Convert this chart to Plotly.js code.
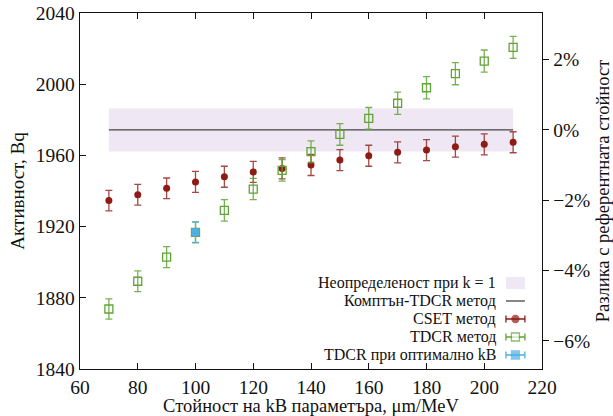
<!DOCTYPE html>
<html><head><meta charset="utf-8">
<script src="https://cdn.plot.ly/plotly-3.0.1.min.js"></script>
<style>body{margin:0;background:#fff}#c{width:613px;height:416px}</style>
</head><body><div id="c"></div>
<script>
const kB = [70, 80, 90, 100, 110, 120, 130, 140, 150, 160, 170, 180, 190, 200, 210];
const csetActivity = [1934.6, 1937.9, 1941.5, 1945.1, 1948.0, 1950.7, 1952.7, 1954.6, 1957.4, 1959.8, 1961.7, 1963.0, 1964.9, 1966.2, 1967.4];
const csetError = [5.8, 5.8, 5.8, 5.9, 5.9, 5.9, 5.9, 5.9, 5.9, 5.9, 5.9, 5.9, 5.9, 5.9, 5.9];
const tdcrActivity = [1873.7, 1889.3, 1902.9, 1916.8, 1929.1, 1941.1, 1951.6, 1962.1, 1971.8, 1980.8, 1989.3, 1998.0, 2005.9, 2013.0, 2020.7];
const tdcrError = [5.7, 5.8, 5.9, 5.9, 6.0, 6.0, 6.1, 6.1, 6.1, 6.1, 6.2, 6.2, 6.2, 6.2, 6.2];
const optKB = [100];
const optActivity = [1916.8];
const optError = [5.7];
const refActivity = 1974.3;
const refUncertainty = 12.1;
const refRange = [70, 210];
const yRange = [1840, 2040];
const legendLabels = ["Неопределеност при k = 1", "Комптън-TDCR метод", "CSET метод", "TDCR метод", "TDCR при оптимално kB"];

const font = "Liberation Serif, DejaVu Serif, serif";
const red = "#8e1b14", green = "#5fa434", blue = "#4db0e3";

const legY = [0.2416, 0.191, 0.1404, 0.0899, 0.0393];
const keyY = legY.slice(2);

const traces = [
  {x:[refRange[0], refRange[1], refRange[1], refRange[0]],
   y:[refActivity-refUncertainty, refActivity-refUncertainty, refActivity+refUncertainty, refActivity+refUncertainty],
   fill:'toself', fillcolor:'#efe7f4', line:{width:0}, mode:'lines', hoverinfo:'skip', showlegend:false},
  {x:refRange, y:[refActivity, refActivity], mode:'lines', line:{color:'#444', width:1.3}, showlegend:false},
  {x:kB, y:csetActivity, mode:'markers', marker:{color:red, size:7, symbol:'circle'},
   error_y:{type:'data', array:csetError, color:'rgba(142,27,20,0.8)', thickness:1.3, width:3.5}, showlegend:false},
  {x:kB, y:tdcrActivity, mode:'markers', marker:{color:green, size:8, symbol:'square-open', line:{color:green, width:1.3}},
   error_y:{type:'data', array:tdcrError, color:'rgba(95,164,52,0.85)', thickness:1.3, width:3.5}, showlegend:false},
  {x:optKB, y:optActivity, mode:'markers', marker:{color:blue, size:8, symbol:'square'},
   error_y:{type:'data', array:optError, color:'rgba(77,176,227,0.85)', thickness:1.3, width:3.5}, showlegend:false},
  {x:[kB[0]], y:[0], yaxis:'y2', mode:'markers', marker:{opacity:0}, hoverinfo:'skip', showlegend:false}
];
const keyColors = [red, green, blue];
keyColors.forEach((c,i)=>{
  traces.push({x:[0.9425], y:[keyY[i]], xaxis:'x3', yaxis:'y3', mode:'markers',
    marker:{color:'rgba(0,0,0,0)', size:1},
    error_x:{type:'constant', value:0.0205, color:c, thickness:1.3, width:3.5}, showlegend:false, hoverinfo:'skip'});
});
traces.push({x:[0.9425, 0.9425, 0.9425], y:keyY, xaxis:'x3', yaxis:'y3', mode:'markers',
   marker:{color:[red, '#fff', blue], size:[7,8,8], symbol:['circle','square','square'], line:{color:[red, green, blue], width:1.3}},
   showlegend:false, hoverinfo:'skip'});

const y2r = [(yRange[0]/refActivity-1)*100, (yRange[1]/refActivity-1)*100];
const annotations = legendLabels.map((t,i)=>({
  xref:'paper', yref:'paper', x:0.902, y:legY[i], xanchor:'right', yanchor:'middle',
  text:t, showarrow:false, borderpad:0,
  font:{family:font, size:16, color:'#111'}
}));

const layout = {
  width:613, height:416,
  margin:{l:80, r:71, t:13, b:47},
  paper_bgcolor:'#fff', plot_bgcolor:'#fff',
  font:{family:font, size:19.5, color:'#111'},
  showlegend:false,
  xaxis:{range:[60,220], dtick:20, tick0:60, ticks:'inside', ticklen:6, tickcolor:'#111', showline:true, linecolor:'#111', linewidth:1.3,
    mirror:'ticks', showgrid:false, zeroline:false,
    title:{text:'Стойност на kB параметъра, μm/MeV', font:{family:font, size:18.5}, standoff:4}},
  yaxis:{range:yRange, dtick:40, tick0:1840, ticks:'inside', ticklen:6, tickcolor:'#111', showline:true, linecolor:'#111', linewidth:1.3,
    showgrid:false, zeroline:false,
    title:{text:'Активност, Bq', font:{family:font, size:19}, standoff:6}},
  yaxis2:{range:y2r, overlaying:'y', side:'right', dtick:2, tick0:0, ticksuffix:'%', ticks:'outside', ticklen:6, tickcolor:'#111',
    showline:true, linecolor:'#111', linewidth:1.3, showgrid:false, zeroline:false,
    title:{text:'Разлика с референтната стойност', font:{family:font, size:18.5}, standoff:8}},
  xaxis3:{range:[0,1], overlaying:'x', visible:false, fixedrange:true},
  yaxis3:{range:[0,1], overlaying:'y', visible:false, fixedrange:true},
  shapes:[
    {type:'rect', xref:'paper', yref:'paper', x0:0.922, x1:0.963, y0:legY[0]-0.017, y1:legY[0]+0.017, fillcolor:'#efe7f4', line:{width:0}},
    {type:'line', xref:'paper', yref:'paper', x0:0.922, x1:0.963, y0:legY[1], y1:legY[1], line:{color:'#444', width:1.3}}
  ],
  annotations:annotations
};
Plotly.newPlot('c', traces, layout, {displayModeBar:false, staticPlot:true});
</script></body></html>
